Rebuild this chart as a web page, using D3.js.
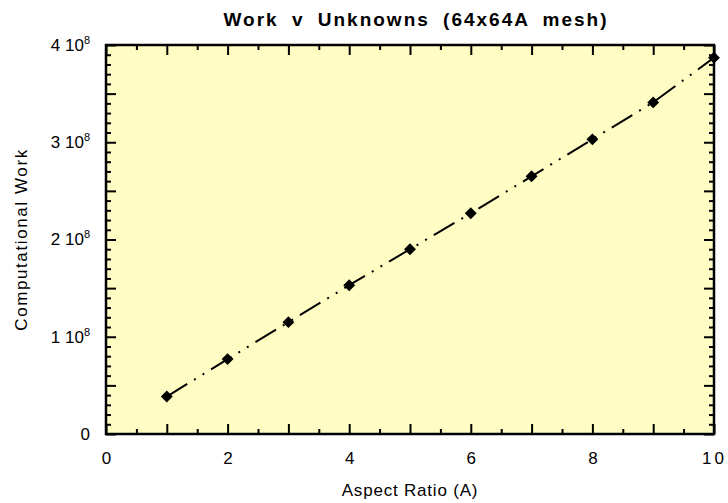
<!DOCTYPE html>
<html>
<head>
<meta charset="utf-8">
<script src="https://cdn.jsdelivr.net/npm/d3@7"></script>
<style>
  body { margin: 0; background: #fff; }
  text { font-family: "Liberation Sans", Arial, sans-serif; }
</style>
</head>
<body>
<div id="chart"></div>
<script>
// aspect ratio A and computational work (units of 1e8)
let aspect = [1, 2, 3, 4, 5, 6, 7, 8, 9, 10];
let work = [0.385, 0.77, 1.15, 1.53, 1.90, 2.27, 2.65, 3.03, 3.41, 3.87];
let xLabels = [0, 2, 4, 6, 8, 10];
let yLabels = [0, 1, 2, 3, 4];

let W = 728, H = 503;
let margin = {top: 45, right: 14, bottom: 69, left: 106};
let width = W - margin.left - margin.right;
let height = H - margin.top - margin.bottom;

let svg = d3.select("#chart")
  .append("svg")
    .attr("width", W)
    .attr("height", H);

let g = svg.append("g")
    .attr("transform", "translate(" + margin.left + "," + margin.top + ")");

let x = d3.scaleLinear().domain([0, 10]).range([0, width]);
let y = d3.scaleLinear().domain([0, 4]).range([height, 0]);

g.append("rect")
  .attr("width", width)
  .attr("height", height)
  .attr("fill", "#fffcc4");

// tick positions
let xTicks = d3.range(0, 20.5, 1).map(d => d / 2);
let yTicks = d3.range(0, 40.5, 1).map(d => d / 10);
let isMajorX = d => Math.abs(d - Math.round(d)) < 1e-6;
let isMajorY = d => Math.abs(d * 2 - Math.round(d * 2)) < 1e-6;

function styleTicks(sel, major, horiz) {
  sel.select(".domain").remove();
  sel.selectAll(".tick line")
    .attr("stroke", "#000")
    .attr("stroke-width", 2)
    .each(function(d) {
      let len = major(d) ? 10 : 5;
      let ln = d3.select(this);
      if (horiz) ln.attr("x2", +ln.attr("x2") < 0 ? -len : len);
      else ln.attr("y2", +ln.attr("y2") < 0 ? -len : len);
    });
}

// bottom axis
let axBottom = g.append("g")
  .attr("transform", "translate(0," + height + ")")
  .call(d3.axisBottom(x).tickValues(xTicks).tickSizeInner(-5).tickSizeOuter(0).tickPadding(18)
    .tickFormat(d => xLabels.includes(d) ? d : ""));
styleTicks(axBottom, isMajorX, false);
axBottom.selectAll(".tick text")
  .attr("font-size", 17)
  .attr("fill", "#000")
  .attr("letter-spacing", d => d === 10 ? 3 : 0);

// top axis
let axTop = g.append("g")
  .call(d3.axisTop(x).tickValues(xTicks).tickSizeInner(-5).tickSizeOuter(0).tickFormat(""));
styleTicks(axTop, isMajorX, false);

// left axis
let axLeft = g.append("g")
  .call(d3.axisLeft(y).tickValues(yTicks).tickSizeInner(-5).tickSizeOuter(0).tickPadding(16)
    .tickFormat(d => yLabels.includes(d) ? String(d) : ""));
styleTicks(axLeft, isMajorY, true);
axLeft.selectAll(".tick text")
  .attr("font-size", 17)
  .attr("fill", "#000")
  .each(function(d) {
    if (!yLabels.includes(d) || d === 0) return;
    let t = d3.select(this).text("");
    t.append("tspan").text(d + " 10");
    t.append("tspan").attr("dy", -7).attr("font-size", 11).text("8");
  });

// right axis
let axRight = g.append("g")
  .attr("transform", "translate(" + width + ",0)")
  .call(d3.axisRight(y).tickValues(yTicks).tickSizeInner(-5).tickSizeOuter(0).tickFormat(""));
styleTicks(axRight, isMajorY, true);

// frame
g.append("rect")
  .attr("width", width)
  .attr("height", height)
  .attr("fill", "none")
  .attr("stroke", "#000")
  .attr("stroke-width", 2.5);

// dash-dot-dot line
let line = d3.line()
  .x((d, i) => x(aspect[i]))
  .y(d => y(d));

g.append("path")
  .datum(work)
  .attr("d", line)
  .attr("fill", "none")
  .attr("stroke", "#000")
  .attr("stroke-width", 2)
  .attr("stroke-dasharray", "24,8,2,8,2,8");

// diamond markers
g.selectAll(".pt")
  .data(work)
  .enter().append("path")
    .attr("class", "pt")
    .attr("d", d3.symbol().type(d3.symbolDiamond2).size(90))
    .attr("transform", (d, i) => "translate(" + x(aspect[i]) + "," + y(d) + ")")
    .attr("fill", "#000");

// titles
svg.append("text")
  .attr("x", 416)
  .attr("y", 26)
  .attr("text-anchor", "middle")
  .attr("font-size", 19)
  .attr("font-weight", "bold")
  .attr("letter-spacing", 2)
  .attr("word-spacing", 6)
  .text("Work v Unknowns (64x64A mesh)");

svg.append("text")
  .attr("x", 410)
  .attr("y", 496)
  .attr("text-anchor", "middle")
  .attr("font-size", 17)
  .attr("letter-spacing", 0.8)
  .text("Aspect Ratio (A)");

svg.append("text")
  .attr("transform", "translate(27," + (margin.top + height / 2) + ") rotate(-90)")
  .attr("text-anchor", "middle")
  .attr("font-size", 17)
  .attr("letter-spacing", 1.6)
  .text("Computational Work");
</script>
</body>
</html>
